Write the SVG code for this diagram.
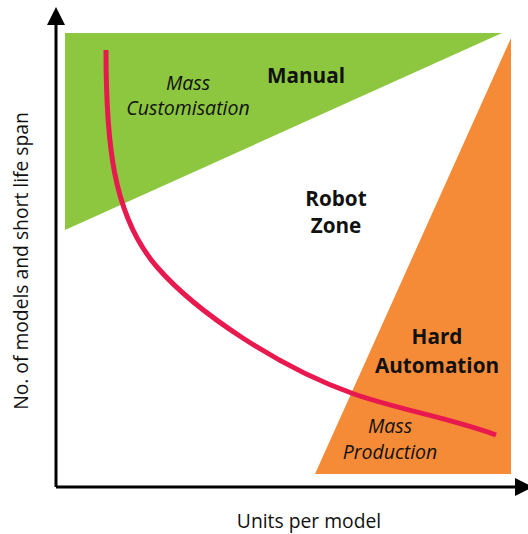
<svg xmlns="http://www.w3.org/2000/svg" width="528" height="534" viewBox="0 0 528 534">
<style>
.lbl{font-family:"Open Sans","Liberation Sans",sans-serif;fill:#111;text-anchor:middle}
.b{font-weight:bold;font-size:20.7px}
.i{font-style:italic;font-size:19.5px}
.ax{font-size:19.3px}
.axis{stroke:#000;stroke-width:3;fill:none}
</style>
<defs>
<marker id="ah" markerWidth="6" markerHeight="6" refX="0" refY="3" orient="auto" markerUnits="strokeWidth">
<path d="M0,0 L6,3 L0,6 Z" fill="#000"/>
</marker>
</defs>
<rect width="528" height="534" fill="#fff"/>
<g id="manual">
<polygon points="65,33 502,33 65,230" fill="#8dc63f"/>
<text class="lbl b" x="306" y="83">Manual</text>
<text class="lbl i" x="188" y="90">Mass</text>
<text class="lbl i" x="188" y="115">Customisation</text>
</g>
<g id="hard-automation">
<polygon points="511,38 511,474 315,474" fill="#f58b37"/>
<text class="lbl b" x="437" y="344">Hard</text>
<text class="lbl b" x="437" y="373">Automation</text>
<text class="lbl i" x="390" y="433">Mass</text>
<text class="lbl i" x="390" y="459">Production</text>
</g>
<g id="robot-zone">
<text class="lbl b" x="336" y="206">Robot</text>
<text class="lbl b" x="336" y="233">Zone</text>
</g>
<g id="connectors">
<path class="axis" d="M56,487 L56,25" marker-end="url(#ah)"/>
<path class="axis" d="M56,487 L515,487" marker-end="url(#ah)"/>
<path d="M106,50 C106,140 112,215 157,267 C197,313 280,368 354,394 C400,410 450,418 496,435" fill="none" stroke="#e8194f" stroke-width="5"/>
</g>
<g id="axis-labels">
<text class="lbl ax" x="309" y="528">Units per model</text>
<text class="lbl ax" transform="translate(28,261) rotate(-90)" x="0" y="0">No. of models and short life span</text>
</g>
</svg>
